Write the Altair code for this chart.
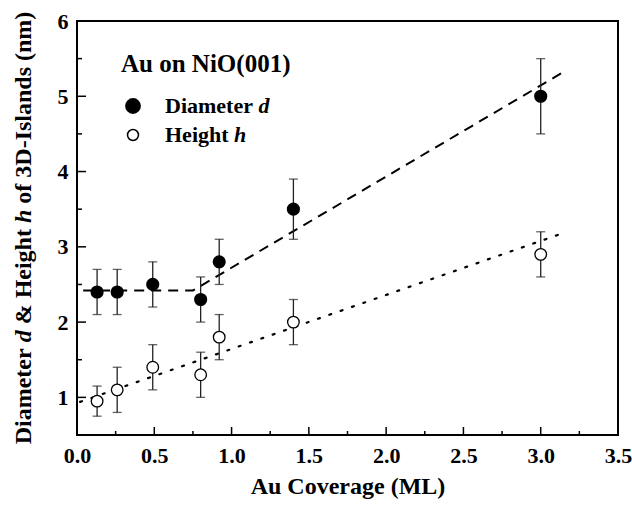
import altair as alt
import pandas as pd

# ---------------- data ----------------
coverage = [0.13, 0.26, 0.49, 0.80, 0.92, 1.40, 3.00]
diameter = [2.4, 2.4, 2.5, 2.3, 2.8, 3.5, 5.0]
diameter_err = [0.3, 0.3, 0.3, 0.3, 0.3, 0.4, 0.5]
height = [0.95, 1.1, 1.4, 1.3, 1.8, 2.0, 2.9]
height_err = [0.2, 0.3, 0.3, 0.3, 0.3, 0.3, 0.3]

fit_d_x = [0.04, 0.75, 3.17]
fit_d_y = [2.42, 2.42, 5.35]
fit_h_x = [0.02, 3.17]
fit_h_y = [0.94, 3.20]

x_major = [0.0, 0.5, 1.0, 1.5, 2.0, 2.5, 3.0, 3.5]
x_minor = [0.25, 0.75, 1.25, 1.75, 2.25, 2.75, 3.25]
y_major = [1, 2, 3, 4, 5, 6]
y_minor = [0.5, 1.5, 2.5, 3.5, 4.5, 5.5]

legend_title = "Au on NiO(001)"
legend_labels = [("Diameter", "d"), ("Height", "h")]
# (text, italic) pieces of the y title; words are separated by one space
y_title_parts = [("Diameter", False), ("d", True), ("& Height", False),
                 ("h", True), ("of 3D-Islands (nm)", False)]
x_title = "Au Coverage (ML)"

# ---------------- layout ----------------
W, H = 541, 414
FONT = "Liberation Serif"

df = pd.DataFrame({
    "x": coverage,
    "d": diameter,
    "d_lo": [v - e for v, e in zip(diameter, diameter_err)],
    "d_hi": [v + e for v, e in zip(diameter, diameter_err)],
    "h": height,
    "h_lo": [v - e for v, e in zip(height, height_err)],
    "h_hi": [v + e for v, e in zip(height, height_err)],
})
fit_d = pd.DataFrame({"x": fit_d_x, "y": fit_d_y})
fit_h = pd.DataFrame({"x": fit_h_x, "y": fit_h_y})

xs = alt.Scale(domain=[0, 3.5], nice=False, zero=False)
ys = alt.Scale(domain=[0.5, 6], nice=False, zero=False)

x_axis = alt.Axis(values=x_major, format=".1f", title=x_title,
                  labelFontSize=22, titleFontSize=24, labelPadding=10,
                  titlePadding=8, labelFont=FONT, titleFont=FONT,
                  labelFontWeight="bold", titleFontWeight="bold",
                  labelColor="black", titleColor="black", ticks=False,
                  domain=False, grid=False, labelFlush=False)
y_axis = alt.Axis(values=y_major, format="d", title=None,
                  labelFontSize=22, labelPadding=9, labelFont=FONT,
                  labelFontWeight="bold", labelColor="black", ticks=False,
                  domain=False, grid=False, labelFlush=False)


def X(field):
    return alt.X(field, type="quantitative", scale=xs, axis=x_axis)


def Y(field):
    return alt.Y(field, type="quantitative", scale=ys, axis=y_axis)


line_d = alt.Chart(fit_d).mark_line(color="black", strokeWidth=2,
                                     strokeDash=[10, 7]).encode(x=X("x"), y=Y("y"))
line_h = alt.Chart(fit_h).mark_line(color="black", strokeWidth=2.2,
                                     strokeDash=[2, 10], strokeCap="round").encode(x=X("x"), y=Y("y"))

base = alt.Chart(df)
err_d = base.mark_rule(color="#222", strokeWidth=1.3).encode(x=X("x"), y=Y("d_lo"), y2="d_hi")
err_h = base.mark_rule(color="#222", strokeWidth=1.3).encode(x=X("x"), y=Y("h_lo"), y2="h_hi")
caps = [base.mark_tick(color="#222", orient="horizontal", size=9, thickness=1.3).encode(x=X("x"), y=Y(f))
        for f in ["d_lo", "d_hi", "h_lo", "h_hi"]]
pts_d = base.mark_point(shape="circle", filled=True, fill="black", stroke="black",
                        size=125, opacity=1).encode(x=X("x"), y=Y("d"))
pts_h = base.mark_point(shape="circle", filled=True, fill="white", stroke="black",
                        strokeWidth=1.3, size=135, opacity=1).encode(x=X("x"), y=Y("h"))

# inward ticks
tick_layers = []
for vals, ln in [(x_major, 8), (x_minor, 4)]:
    tick_layers.append(alt.Chart(pd.DataFrame({"v": vals})).mark_rule(color="black", strokeWidth=1.5).encode(
        x=X("v"), y=alt.value(H), y2=alt.value(H - ln)))
for vals, ln in [(y_major, 9), (y_minor, 5)]:
    tick_layers.append(alt.Chart(pd.DataFrame({"v": vals})).mark_rule(color="black", strokeWidth=1.5).encode(
        y=Y("v"), x=alt.value(0), x2=alt.value(ln)))

one = pd.DataFrame({"k": [0]})


def text_layer(txt, x, y, size, italic=False, angle=0):
    kw = dict(text=txt, font=FONT, fontWeight="bold", fontSize=size,
              align="left", baseline="alphabetic", color="black")
    if italic:
        kw["fontStyle"] = "italic"
    if angle:
        kw["angle"] = angle
    return alt.Chart(one).mark_text(**kw).encode(x=alt.value(x), y=alt.value(y))


# char widths (Times bold, per 1000 em)
WB = {'D': 722, 'i': 278, 'a': 500, 'm': 833, 'e': 444, 't': 333, 'r': 444, ' ': 250,
      '&': 833, 'H': 778, 'g': 500, 'h': 556, 'o': 500, 'f': 333, '3': 500, '-': 333,
      'I': 389, 's': 389, 'l': 278, 'n': 556, 'd': 556, '(': 333, ')': 333}
WI = {'d': 500, 'h': 556}


def width(s, italic, size):
    tbl = WI if italic else WB
    return sum(tbl.get(c, WB.get(c, 500)) for c in s) * size / 1000.0


text_layers = []
# legend
text_layers.append(text_layer(legend_title, 44, 51, 25))
leg_y = [92, 121]
for (lab, it), yy in zip(legend_labels, leg_y):
    text_layers.append(text_layer(lab, 88, yy, 22))
    text_layers.append(text_layer(it, 88 + width(lab + " ", False, 22), yy, 22, italic=True))

text_layers.append(alt.Chart(one).mark_point(shape="circle", filled=True, fill="black", stroke="black",
                                             size=190, opacity=1).encode(x=alt.value(56), y=alt.value(85)))
text_layers.append(alt.Chart(one).mark_point(shape="circle", filled=True, fill="white", stroke="black",
                                             strokeWidth=1.5, size=120, opacity=1).encode(x=alt.value(56), y=alt.value(114)))

# y title in pieces (rotated), separated by a space width
YT = 24
space = width(" ", False, YT)
total = sum(width(s, it, YT) for s, it in y_title_parts) + space * (len(y_title_parts) - 1)
pos = H / 2 + total / 2
for s, it in y_title_parts:
    text_layers.append(text_layer(s, -46, pos, YT, italic=it, angle=270))
    pos -= width(s, it, YT) + space

chart = alt.layer(line_d, line_h, err_d, err_h, *caps, pts_d, pts_h, *tick_layers, *text_layers).properties(
    width=W, height=H,
    autosize=alt.AutoSizeParams(type="none"),
    padding={"left": 77, "top": 21, "right": 14, "bottom": 75},
    background="white",
).configure_view(stroke="black", strokeWidth=2)

chart.save("out.html", embed_options={"renderer": "svg", "actions": False})
